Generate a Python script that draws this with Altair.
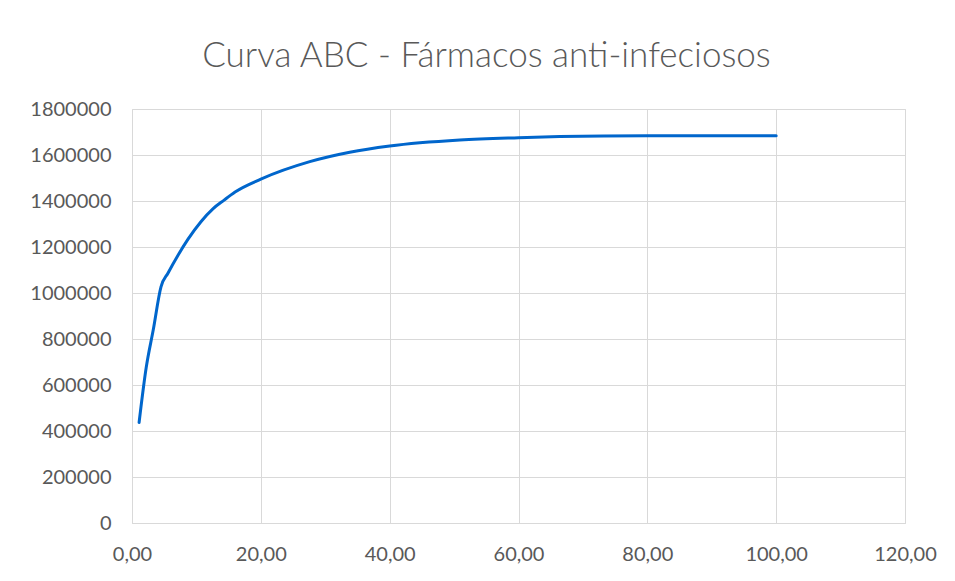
import altair as alt
import pandas as pd

# Cumulative % of items (x) vs cumulative value (y)
pct_items = [1.1, 2.2, 3.3, 4.5, 5.6, 7.1, 8.7, 10.7, 12.6, 14.3, 16.0, 20.0,
             27.6, 33.8, 40.0, 50.9, 60.0, 66.4, 80.0, 100.0]
cum_value = [437000, 675000, 840000, 1027000, 1087000, 1162000, 1234000, 1310000,
             1367000, 1404000, 1439000, 1495000, 1571000, 1612000, 1639000,
             1665000, 1675000, 1680000, 1684000, 1684000]

x_ticks = [0, 20, 40, 60, 80, 100, 120]
y_ticks = [0, 200000, 400000, 600000, 800000, 1000000, 1200000, 1400000, 1600000, 1800000]

df = pd.DataFrame({"x": pct_items, "y": cum_value})

FONT = "Lato"
GRID = "#d9d9d9"
TXT = "#595959"

chart = alt.Chart(df).mark_line(
    color="#0066cc", strokeWidth=3, interpolate="monotone", strokeCap="round"
).encode(
    x=alt.X("x:Q", scale=alt.Scale(domain=[0, 120], nice=False),
            axis=alt.Axis(values=x_ticks, title=None, grid=True, gridColor=GRID,
                          domainColor=GRID, ticks=False, labelPadding=21,
                          labelFlush=False,
                          labelExpr="replace(format(datum.value, '.2f'), '.', ',')",
                          labelFont=FONT, labelFontSize=20, labelColor=TXT)),
    y=alt.Y("y:Q", scale=alt.Scale(domain=[0, 1800000], nice=False),
            axis=alt.Axis(values=y_ticks, title=None, grid=True, gridColor=GRID,
                          domain=False, ticks=False, labelPadding=21, format="d",
                          labelFlush=False,
                          labelFont=FONT, labelFontSize=20, labelColor=TXT)),
).properties(
    width=773, height=414,
    title=alt.TitleParams("Curva ABC - Fármacos anti-infeciosos", font=FONT,
                          fontSize=35, fontWeight=300, color=TXT,
                          anchor="middle", dx=-32, offset=25),
    autosize=alt.AutoSizeParams(type="none"),
    padding={"left": 124, "top": 101, "right": 42, "bottom": 50},
).configure_view(stroke=GRID)

chart.save("out.html", embed_options={"renderer": "svg", "actions": False})
